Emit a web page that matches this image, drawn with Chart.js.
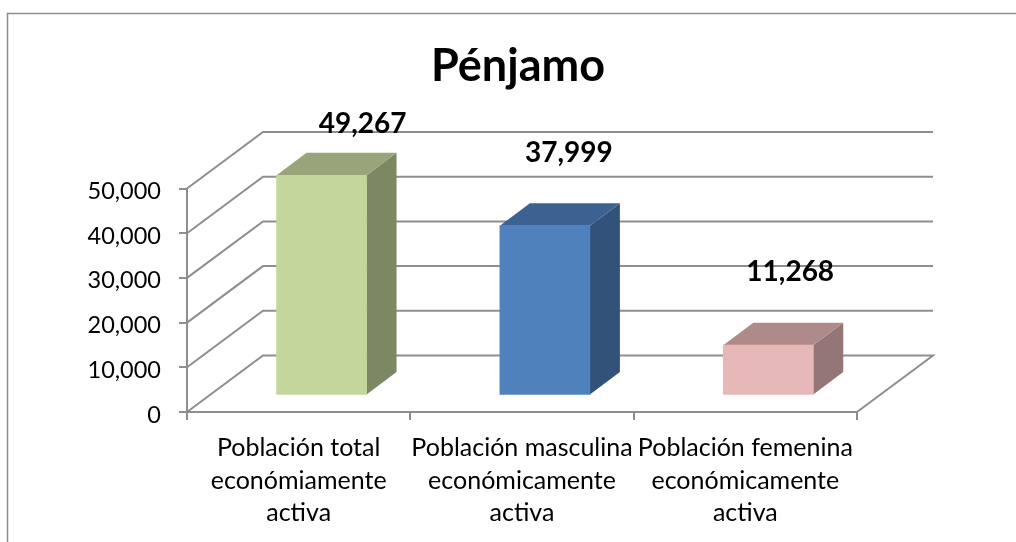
<!DOCTYPE html>
<html>
<head>
<meta charset="utf-8">
<style>html,body{margin:0;padding:0;background:#fff}canvas{display:block}</style>
<script src="https://cdn.jsdelivr.net/npm/chart.js@4/dist/chart.umd.min.js"></script>
</head>
<body>
<canvas id="c" width="1016" height="542"></canvas>
<script>
const chartTitle = "Pénjamo";
const categories = [
  ["Población total", "económiamente", "activa"],
  ["Población masculina", "económicamente", "activa"],
  ["Población femenina", "económicamente", "activa"]
];
const seriesValues = [49267, 37999, 11268];
const frontColors = ["#C3D69B", "#4F81BD", "#E6B9B8"];
const sideColors = ["#7C8763", "#32527A", "#937675"];
const topColors = ["#98A47A", "#3B6291", "#AE8B8A"];
const GRID = "#8E8E8E";
const FONT = "Lato, Carlito, sans-serif";
const wall = {dx: 76, dy: 56.5};
const barShift = {dx: 22.9, dy: 16.5};
const barDepth = {dx: 30, dy: 22.5};
const labelShift = [[41, -51.5], [24, -73], [22, -73]];

const depth3d = {
  id: "depth3d",
  afterLayout(chart) {
    chart.titleBlock.left = 20;
    chart.titleBlock.right = 1016;
  },
  beforeDraw(chart) {
    const c = chart.ctx;
    c.save();
    c.strokeStyle = GRID; c.lineWidth = 1.5;
    c.beginPath(); c.moveTo(7.5, 542); c.lineTo(7.5, 13.5); c.lineTo(1016, 13.5); c.stroke();
    c.restore();
  },
  beforeDatasetsDraw(chart) {
    const c = chart.ctx, xs = chart.scales.x, ys = chart.scales.y;
    const L = xs.left, R = xs.right;
    c.save();
    c.strokeStyle = GRID; c.lineWidth = 2; c.lineJoin = "miter";
    ys.ticks.forEach(t => {
      const y = ys.getPixelForValue(t.value);
      c.beginPath();
      c.moveTo(L, y);
      c.lineTo(L + wall.dx, y - wall.dy);
      c.lineTo(R + wall.dx, y - wall.dy);
      if (t.value === 0) c.lineTo(R, y);
      c.stroke();
    });
    c.restore();
    const meta = chart.getDatasetMeta(0);
    meta.data.forEach((b, i) => {
      const hw = b.width / 2;
      const l = b.x - hw + barShift.dx, r = b.x + hw + barShift.dx;
      const t = b.y - barShift.dy, bt = b.base - barShift.dy;
      c.fillStyle = sideColors[i];
      c.beginPath();
      c.moveTo(r, t); c.lineTo(r + barDepth.dx, t - barDepth.dy);
      c.lineTo(r + barDepth.dx, bt - barDepth.dy); c.lineTo(r, bt);
      c.closePath(); c.fill();
      c.fillStyle = topColors[i];
      c.beginPath();
      c.moveTo(l, t); c.lineTo(l + barDepth.dx, t - barDepth.dy);
      c.lineTo(r + barDepth.dx, t - barDepth.dy); c.lineTo(r, t);
      c.closePath(); c.fill();
    });
    c.save();
    c.translate(barShift.dx, -barShift.dy);
  },
  afterDatasetsDraw(chart) {
    const c = chart.ctx;
    c.restore();
    const meta = chart.getDatasetMeta(0);
    c.save();
    c.fillStyle = "#000";
    c.font = "bold 28px " + FONT;
    c.textAlign = "center"; c.textBaseline = "middle";
    meta.data.forEach((b, i) => {
      c.fillText(seriesValues[i].toLocaleString("en-US"),
        b.x + barShift.dx + labelShift[i][0], b.y - barShift.dy + labelShift[i][1]);
    });
    c.restore();
  }
};

new Chart(document.getElementById("c"), {
  type: "bar",
  data: {
    labels: categories,
    datasets: [{
      data: seriesValues,
      backgroundColor: frontColors,
      borderWidth: 0,
      barThickness: 90,
      clip: false
    }]
  },
  plugins: [depth3d],
  options: {
    responsive: false,
    animation: false,
    devicePixelRatio: 1,
    layout: {padding: {left: 0, right: 159, top: 0, bottom: 0}},
    plugins: {
      legend: {display: false},
      tooltip: {enabled: false},
      title: {
        display: true,
        text: chartTitle,
        color: "#000",
        font: {family: FONT, size: 45, weight: "bold", lineHeight: 1.2},
        padding: {top: 39, bottom: 95.5}
      }
    },
    scales: {
      x: {
        afterFit(s) { s.height = 130; },
        grid: {drawOnChartArea: false, drawTicks: true, tickLength: 8, color: GRID, lineWidth: 2},
        border: {color: GRID, width: 2},
        ticks: {
          color: "#000", autoSkip: false, maxRotation: 0, minRotation: 0, padding: 12,
          font: {family: FONT, size: 25, lineHeight: 1.3}
        }
      },
      y: {
        min: 0, max: 50000,
        afterFit(s) { s.width = 187; },
        grid: {drawOnChartArea: false, drawTicks: true, tickLength: 8, color: GRID, lineWidth: 2},
        border: {color: GRID, width: 2},
        ticks: {
          stepSize: 10000, color: "#000", padding: 18, labelOffset: 3,
          font: {family: FONT, size: 23.5},
          callback: v => v.toLocaleString("en-US")
        }
      }
    }
  }
});
</script>
</body>
</html>
